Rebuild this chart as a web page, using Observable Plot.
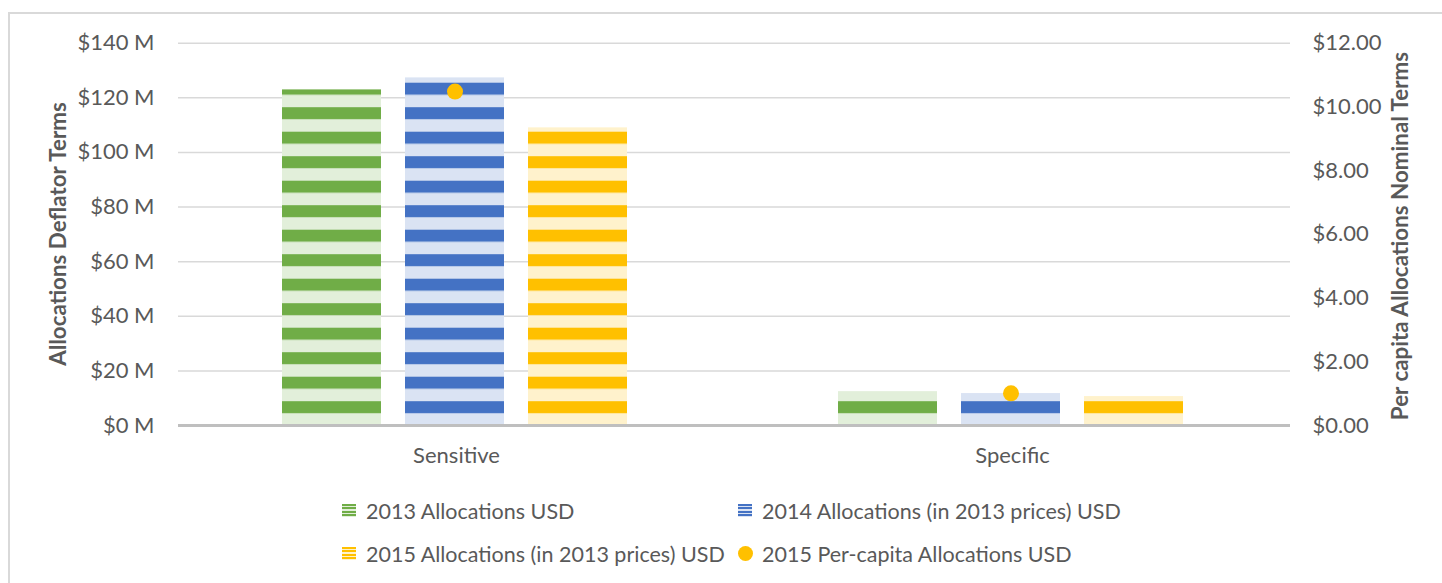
<!DOCTYPE html>
<html>
<head>
<meta charset="utf-8">
<script src="https://cdn.jsdelivr.net/npm/d3@7"></script>
<script src="https://cdn.jsdelivr.net/npm/@observablehq/plot@0.6"></script>
<style>
  body { margin: 0; background: #fff; font-family: Lato, sans-serif; }
  #wrap { position: relative; width: 1442px; height: 583px; overflow: hidden; background: #fff; }
  #frame { position: absolute; left: 8px; top: 12px; width: 1500px; height: 700px;
           border-top: 2px solid #d9d9d9; border-left: 2px solid #d9d9d9; }
  #chart { position: absolute; left: 0; top: 0; }
  #legend { position: absolute; left: 342px; top: 489px; display: grid;
            grid-template-columns: 396px 420px; grid-auto-rows: 43px; }
  .item { display: flex; align-items: center; font-size: 21.5px; color: #595959; white-space: nowrap; }
  .sw { width: 14px; height: 13px; margin-right: 10px; flex: none; }
  .dotsw { width: 15px; height: 15px; border-radius: 50%; margin-right: 9px; flex: none; }
</style>
</head>
<body>
<div id="wrap">
  <div id="frame"></div>
  <div id="chart"></div>
  <div id="legend"></div>
</div>
<script>
// ---- data ----
const categories = ["Sensitive", "Specific"];
const series = [
  "2013 Allocations USD",
  "2014 Allocations (in 2013 prices) USD",
  "2015 Allocations (in 2013 prices) USD"
];
const alloc2013 = [122.9, 12.4];
const alloc2014 = [127.3, 11.7];
const alloc2015 = [109.0, 10.6];
const perCapitaLabel = "2015 Per-capita Allocations USD";
const perCapita2015 = [10.48, 1.01];
const leftTicks = [0, 20, 40, 60, 80, 100, 120, 140];
const rightTicks = [0, 2, 4, 6, 8, 10, 12];
const darkColors = ["#70AD47", "#4472C4", "#FFC000"];
const lightColors = ["#E2EFDA", "#DAE3F3", "#FFF2CC"];
const dotColor = "#FFC000";
const leftTitle = "Allocations Deflator Terms";
const rightTitle = "Per capita Allocations Nominal Terms";

// ---- build ----
const ratio = 140 / 12;
const allocs = [alloc2013, alloc2014, alloc2015];
const rows = [];
categories.forEach((c, i) => series.forEach((s, k) => rows.push({cat: c, series: s, value: allocs[k][i]})));
const dots = categories.map((c, i) => ({cat: c, series: series[1], value: perCapita2015[i] * ratio}));

const W = 1442, H = 480;
const plot = Plot.plot({
  width: W, height: H,
  marginLeft: 177, marginRight: 152, marginTop: 42.7, marginBottom: 55,
  style: {fontFamily: "Lato, sans-serif", fontSize: "22px", color: "#595959", background: "transparent", overflow: "visible"},
  fx: {domain: categories, padding: 0, label: null},
  x: {domain: series, paddingInner: 0.198, paddingOuter: 0.852, align: 0.49, axis: null},
  y: {domain: [0, 140], axis: null},
  marks: [
    Plot.gridY(leftTicks, {stroke: "#d9d9d9", strokeOpacity: 1, strokeWidth: 1.5}),
    ...series.map((s, k) => Plot.barY(rows.filter(d => d.series === s),
      {fx: "cat", x: "series", y: "value", fill: `url(#stripe${k})`})),
    Plot.ruleY([0], {stroke: "#bfbfbf", strokeWidth: 3}),
    Plot.dot(dots, {fx: "cat", x: "series", y: "value", r: 8, fill: dotColor, stroke: "none"}),
    Plot.axisY(leftTicks, {anchor: "left", tickSize: 0, tickPadding: 24, tickFormat: d => `$${d} M`, label: null}),
    Plot.axisY(rightTicks.map(v => v * ratio), {anchor: "right", tickSize: 0, tickPadding: 22,
      tickFormat: v => `$${(v / ratio).toFixed(2)}`, label: null}),
    Plot.axisFx({anchor: "bottom", tickSize: 0, tickPadding: 22, label: null})
  ]
});

// stripe patterns anchored to the baseline
const svg = d3.select(plot);
const y0 = plot.scale("y").apply(0);
const defs = svg.insert("defs", ":first-child");
const P = 24.5;
darkColors.forEach((c, k) => {
  const p = defs.append("pattern").attr("id", `stripe${k}`).attr("patternUnits", "userSpaceOnUse")
    .attr("x", 0).attr("y", y0 - 23.8).attr("width", 20).attr("height", P);
  p.append("rect").attr("x", 0).attr("y", 0).attr("width", 20).attr("height", 12.3).attr("fill", c);
  p.append("rect").attr("x", 0).attr("y", 12.3).attr("width", 20).attr("height", P - 12.3).attr("fill", lightColors[k]);
});

// axis titles
svg.append("text").text(leftTitle)
  .attr("transform", "translate(66,234) rotate(-90)")
  .attr("text-anchor", "middle").attr("fill", "#595959")
  .attr("font-weight", "bold").attr("font-size", "22.4px").attr("font-family", "Lato, sans-serif");
svg.append("text").text(rightTitle)
  .attr("transform", "translate(1408,236) rotate(-90)")
  .attr("text-anchor", "middle").attr("fill", "#595959")
  .attr("font-weight", "bold").attr("font-size", "22.4px").attr("font-family", "Lato, sans-serif");

document.getElementById("chart").appendChild(plot);

// legend
const legend = document.getElementById("legend");
const items = [
  {label: series[0], k: 0}, {label: series[1], k: 1},
  {label: series[2], k: 2}, {label: perCapitaLabel, dot: true}
];
items.forEach(it => {
  const div = document.createElement("div");
  div.className = "item";
  const sw = document.createElement("span");
  if (it.dot) {
    sw.className = "dotsw";
    sw.style.background = dotColor;
  } else {
    sw.className = "sw";
    sw.style.background = `repeating-linear-gradient(to bottom, ${darkColors[it.k]} 0px, ${darkColors[it.k]} 2px, ${lightColors[it.k]} 2px, ${lightColors[it.k]} 3.3px)`;
  }
  div.appendChild(sw);
  const t = document.createElement("span");
  t.textContent = it.label;
  div.appendChild(t);
  legend.appendChild(div);
});
</script>
</body>
</html>
